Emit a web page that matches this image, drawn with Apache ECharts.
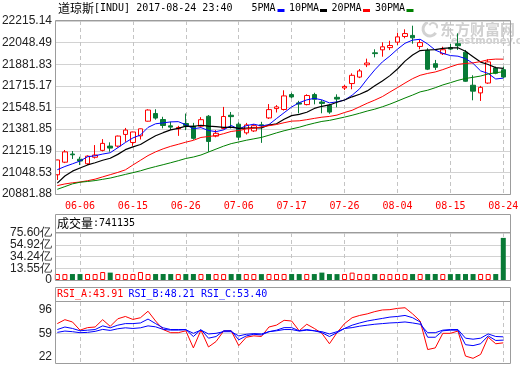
<!DOCTYPE html>
<html><head><meta charset="utf-8">
<script src="https://cdn.jsdelivr.net/npm/echarts@6/dist/echarts.min.js"></script>
<style>html,body{margin:0;padding:0;background:#fff}#c{width:520px;height:365px}</style>
</head><body><div id="c"></div>
<script>
const dates = ['06-01','06-02','06-05','06-06','06-07','06-08','06-09','06-12','06-13','06-14','06-15','06-16','06-19','06-20','06-21','06-22','06-23','06-26','06-27','06-28','06-29','06-30','07-03','07-05','07-06','07-07','07-10','07-11','07-12','07-13','07-14','07-17','07-18','07-19','07-20','07-21','07-24','07-25','07-26','07-27','07-28','07-31','08-01','08-02','08-03','08-04','08-07','08-08','08-09','08-10','08-11','08-14','08-15','08-16','08-17','08-18','08-21','08-22','08-23','08-24'];
const opens = [21030,21127,21190,21150,21115,21165,21218,21251,21251,21341,21279,21330,21443,21502,21456,21407,21385,21425,21404,21404,21481,21328,21387,21489,21420,21353,21368,21415,21468,21540,21533,21648,21584,21571,21648,21591,21566,21627,21699,21733,21783,21878,21970,21993,22010,22052,22096,22104,22019,21989,21886,21963,22010,22040,21975,21720,21661,21737,21853,21840];
const closes = [21144.18,21206.29,21184.04,21136.23,21173.69,21182.53,21271.97,21235.67,21328.47,21374.56,21359.90,21384.28,21528.99,21467.14,21410.03,21397.29,21394.76,21409.55,21310.66,21454.61,21287.03,21349.63,21479.27,21478.17,21320.04,21414.34,21408.52,21409.07,21532.14,21553.09,21637.74,21629.72,21574.73,21640.75,21611.78,21580.07,21513.17,21613.43,21711.01,21796.55,21830.31,21891.12,21963.92,22016.24,22026.10,22092.81,22118.42,22085.34,22048.70,21844.01,21858.32,21993.71,21998.99,22024.87,21750.73,21674.51,21703.75,21899.89,21812.09,21783.40];
const lows = [20990,21120,21152,21105,21105,21155,21210,21208,21240,21284,21253,21302,21440,21455,21388,21375,21330,21374,21300,21395,21207,21319,21380,21387,21298,21340,21360,21276,21460,21510,21525,21620,21503,21565,21573,21504,21500,21550,21683,21689,21775,21860,21935,21940,21991,22030,22082,22040,21997,21837,21838,21953,21992,21992,21747,21604,21599,21730,21805,21775];
const highs = [21146,21221,21213,21169,21180,21259,21305,21280,21332,21391,21362,21386,21535,21535,21477,21439,21407,21502,21430,21474,21490,21375,21553,21514,21434,21430,21420,21438,21575,21567,21681,21662,21600,21650,21662,21606,21575,21650,21722,21812,21845,21925,21997,22051,22063,22125,22151,22179,22069,22005,21915,22017,22038,22120,21992,21797,21715,21920,21863,21863];
const ma5 = [21069.1,21093.8,21114.5,21135.9,21168.9,21176.6,21189.7,21200.0,21238.5,21278.6,21314.1,21336.6,21395.2,21423.0,21430.1,21437.5,21439.6,21415.8,21384.5,21393.4,21371.3,21362.3,21376.2,21409.7,21382.8,21408.3,21420.1,21406.0,21416.8,21463.4,21508.1,21552.4,21585.5,21607.2,21618.9,21607.4,21584.1,21591.8,21605.9,21642.8,21692.9,21768.5,21838.6,21899.6,21945.5,21998.0,22043.5,22067.8,22074.3,22037.9,21991.0,21966.0,21948.7,21944.0,21925.3,21888.6,21830.6,21810.8,21768.2,21774.7];
const ma10 = [20965.8,21020.2,21058.1,21082.2,21105.8,21122.8,21141.7,21157.3,21187.2,21223.8,21245.3,21263.1,21297.6,21330.7,21354.4,21375.8,21388.1,21405.5,21403.7,21411.7,21404.4,21401.0,21396.0,21397.1,21388.1,21389.8,21391.2,21391.1,21413.3,21423.1,21458.2,21486.2,21495.8,21512.0,21541.2,21557.8,21568.2,21588.7,21606.5,21630.9,21650.2,21676.3,21715.2,21752.8,21794.2,21845.5,21906.0,21953.2,21987.0,21991.7,21994.5,22004.8,22008.3,22009.1,21981.6,21939.8,21898.3,21879.7,21856.1,21850.0];
const ma20 = [20946.6,20959.4,20968.2,20974.4,20984.3,20996.3,21013.9,21030.9,21048.2,21067.9,21105.6,21141.7,21177.9,21206.5,21230.1,21249.3,21264.9,21281.4,21295.4,21317.7,21324.9,21332.1,21346.8,21363.9,21371.2,21382.8,21389.6,21398.3,21408.5,21417.4,21431.3,21443.6,21445.9,21454.6,21464.6,21473.8,21479.7,21489.9,21509.9,21527.0,21554.2,21581.3,21605.5,21632.4,21667.7,21701.6,21737.1,21770.9,21796.8,21811.3,21822.3,21840.5,21861.7,21880.9,21887.9,21892.6,21902.1,21916.5,21921.5,21920.9];
const ma30 = [20917.9,20938.8,20960.0,20972.5,20978.4,20985.3,20995.0,21004.8,21018.6,21032.8,21046.2,21060.6,21078.0,21093.2,21107.7,21122.8,21138.6,21155.7,21166.7,21182.5,21205.2,21228.1,21250.6,21270.0,21282.8,21296.2,21307.0,21318.0,21334.7,21352.9,21369.3,21383.4,21396.5,21413.3,21427.9,21441.1,21449.2,21461.8,21474.5,21488.6,21504.3,21521.2,21535.7,21554.0,21574.5,21597.7,21621.8,21644.3,21668.9,21681.9,21700.9,21722.4,21739.7,21758.0,21772.3,21781.0,21790.8,21807.2,21816.5,21824.2];
const volumes = [10.6,10.4,10.5,10.5,10.6,10.5,14.0,13.0,10.5,10.6,10.5,14.0,10.5,10.5,10.6,10.5,10.4,10.5,10.6,10.5,10.6,10.5,10.4,10.5,10.6,10.5,10.5,10.4,10.6,10.5,10.6,10.5,10.5,10.6,10.5,13.0,10.5,10.4,10.5,13.0,10.5,10.6,10.5,10.4,10.5,10.6,10.5,10.5,10.6,10.5,10.6,10.5,10.4,10.6,10.5,10.5,10.6,10.5,10.5,74.11];
const rsiA = [74.4,80.6,77.0,64.0,68.0,69.0,80.6,70.0,82.0,85.7,81.0,83.7,94.0,78.5,65.0,60.0,60.0,63.0,35.9,64.0,37.4,46.0,62.6,63.0,39.5,52.8,55.0,54.0,69.0,72.0,79.6,78.5,63.0,73.4,66.7,59.0,42.5,60.0,74.4,83.7,87.3,89.8,93.4,96.0,96.5,98.5,99.5,89.8,78.5,33.3,35.9,59.0,59.0,62.6,23.0,19.4,25.6,52.8,42.5,43.91];
const rsiB = [65.0,69.0,66.7,63.0,64.0,65.0,70.8,67.7,71.9,74.4,74.4,75.4,81.6,74.4,67.7,65.0,65.0,65.0,53.9,65.0,51.3,53.9,63.1,63.1,48.7,54.9,57.5,56.4,61.6,64.0,68.0,68.0,63.0,65.0,63.0,60.0,53.9,60.0,66.7,71.9,75.4,78.5,80.6,82.6,84.7,85.7,87.3,83.7,77.0,52.8,52.8,63.0,64.0,64.0,41.0,39.5,42.5,55.0,47.7,48.21];
const rsiC = [60.5,62.6,61.6,60.0,60.5,62.1,65.2,63.6,66.2,67.7,66.7,67.7,70.8,69.3,65.2,64.1,64.1,64.7,59.0,64.1,58.0,59.0,61.6,61.6,54.9,57.5,58.5,58.0,61.6,63.0,65.0,65.0,62.6,64.0,63.0,61.6,58.0,61.6,66.7,68.0,70.3,71.9,73.4,74.4,75.4,76.0,77.0,75.4,73.4,60.0,60.0,64.0,65.0,65.0,51.3,49.7,51.3,58.0,54.0,53.40];
const priceTicks = [20881.88,21048.53,21215.19,21381.85,21548.51,21715.17,21881.83,22048.49,22215.14];
const dateTicks = ['06-06','06-15','06-26','07-06','07-17','07-26','08-04','08-15','08-24'];
const volTickLabels = ['0','13.55亿','34.24亿','54.92亿','75.60亿'];
const volAxisMax = 82.73;
const rsiTicks = [22,59,96];

const UP = '#ff0000', DOWN = '#087a36';
const MONO = '"DejaVu Sans Mono", monospace';
const CJK = '"Noto Sans CJK SC", sans-serif';
const NUM = '"Liberation Sans", Arial, sans-serif';
const tickIdx = dateTicks.map(d => dates.indexOf(d));
const volTickPos = volTickLabels.map((_, k) => volAxisMax * k / (volTickLabels.length - 1));
const volLabelFor = v => {
  let k = 0, best = 1e9;
  volTickPos.forEach((p, j) => { if (Math.abs(p - v) < best) { best = Math.abs(p - v); k = j; } });
  return volTickLabels[k];
};

const candleData = dates.map((_, i) => [i, opens[i], closes[i], lows[i], highs[i]]);
const pair = arr => arr.map((v, i) => [i, v]);

const xBase = (gi, showLabel) => ({
  type: 'value', gridIndex: gi, min: -0.307, max: 60.02,
  axisLine: {show: false},
  axisTick: {show: false, customValues: tickIdx},
  axisLabel: showLabel ? {show: true, customValues: tickIdx, formatter: v => dates[Math.round(v)],
    color: '#ff0000', fontFamily: MONO, fontSize: 10, margin: 7, showMinLabel: true, showMaxLabel: true, hideOverlap: false} : {show: false},
  splitLine: {show: true, lineStyle: {color: '#c4c4c4', type: [4, 3], width: 1}}
});

const labelBase = {fontFamily: NUM, fontSize: 12, color: '#222', margin: 3, showMinLabel: true, showMaxLabel: true, hideOverlap: false};
const gridLine = {color: '#d2d2d2', width: 1, type: 'solid'};
const chart = echarts.init(document.getElementById('c'), null, {renderer: 'canvas'});
chart.setOption({
  animation: false,
  backgroundColor: '#ffffff',
  grid: [
    {left: 55, top: 21, width: 456, height: 173, outerBoundsMode: 'none'},
    {left: 55, top: 233, width: 456, height: 47, outerBoundsMode: 'none'},
    {left: 55, top: 302, width: 456, height: 61, outerBoundsMode: 'none'}
  ],
  xAxis: [xBase(0, true), xBase(1, false), xBase(2, false)],
  yAxis: [
    {type: 'value', gridIndex: 0, min: priceTicks[0], max: priceTicks[priceTicks.length - 1],
      axisLine: {show: false}, axisTick: {show: false, customValues: priceTicks},
      axisLabel: Object.assign({customValues: priceTicks, formatter: v => v.toFixed(2)}, labelBase),
      splitLine: {show: true, lineStyle: gridLine}},
    {type: 'value', gridIndex: 1, min: 0, max: volAxisMax, position: 'left',
      axisLine: {show: false}, axisTick: {show: false, customValues: volTickPos},
      axisLabel: Object.assign({customValues: volTickPos.filter((_, k) => k % 2 === 0), formatter: volLabelFor}, labelBase),
      splitLine: {show: true, lineStyle: gridLine}},
    {type: 'value', gridIndex: 2, min: 12, max: 108.6,
      axisLine: {show: false}, axisTick: {show: false, customValues: rsiTicks},
      axisLabel: Object.assign({customValues: rsiTicks}, labelBase),
      splitLine: {show: false}},
    {type: 'value', gridIndex: 1, min: 0, max: volAxisMax, position: 'left', offset: 0,
      axisLine: {show: false}, axisTick: {show: false},
      axisLabel: Object.assign({customValues: volTickPos.filter((_, k) => k % 2 === 1), formatter: volLabelFor}, labelBase),
      splitLine: {show: false}}
  ],
  graphic: [
    {type: 'arc', z: 0, shape: {cx: 430, cy: 29, r: 7, startAngle: 0.6, endAngle: 4.4}, style: {fill: null, stroke: '#d2d2d2', lineWidth: 3}},
    {type: 'arc', z: 0, shape: {cx: 433, cy: 27, r: 4, startAngle: 3.6, endAngle: 6.6}, style: {fill: null, stroke: '#d2d2d2', lineWidth: 2}},
    {type: 'text', z: 0, style: {x: 440, y: 22, text: '东方财富网', font: 'bold 15px "Noto Sans CJK SC"', fill: '#d0d0d0'}},
    {type: 'text', z: 0, style: {x: 451, y: 36, text: 'eastmoney.com', font: 'bold 10px "DejaVu Sans"', fill: '#d0d0d0'}},
    {type: 'rect', z: 10, shape: {x: 55.5, y: 20.5, width: 455, height: 174}, style: {fill: null, stroke: '#9c9c9c', lineWidth: 1}},
    {type: 'rect', z: 10, shape: {x: 55.5, y: 214.5, width: 455, height: 66}, style: {fill: null, stroke: '#9c9c9c', lineWidth: 1}},
    {type: 'line', z: 10, shape: {x1: 55.5, y1: 232.5, x2: 510.5, y2: 232.5}, style: {stroke: '#9c9c9c', lineWidth: 1}},
    {type: 'rect', z: 10, shape: {x: 55.5, y: 287.5, width: 455, height: 76}, style: {fill: null, stroke: '#9c9c9c', lineWidth: 1}},
    {type: 'line', z: 10, shape: {x1: 55.5, y1: 301.5, x2: 510.5, y2: 301.5}, style: {stroke: '#9c9c9c', lineWidth: 1}},
    {type: 'text', z: 11, style: {x: 58, y: 8, text: '{c|道琼斯}{m|[INDU] 2017-08-24 23:40}', verticalAlign: 'middle',
      rich: {c: {fontFamily: CJK, fontSize: 12, fill: '#000'}, m: {fontFamily: MONO, fontSize: 10, fill: '#000'}}}},
    {type: 'text', z: 11, style: {x: 251.5, y: 8, text: '5PMA', verticalAlign: 'middle', font: '10px ' + MONO, fill: '#000'}},
    {type: 'rect', z: 11, shape: {x: 277.5, y: 9, width: 7, height: 3}, style: {fill: '#0000ff'}},
    {type: 'text', z: 11, style: {x: 289, y: 8, text: '10PMA', verticalAlign: 'middle', font: '10px ' + MONO, fill: '#000'}},
    {type: 'rect', z: 11, shape: {x: 320, y: 9, width: 7, height: 3}, style: {fill: '#000000'}},
    {type: 'text', z: 11, style: {x: 331.5, y: 8, text: '20PMA', verticalAlign: 'middle', font: '10px ' + MONO, fill: '#000'}},
    {type: 'rect', z: 11, shape: {x: 363, y: 9, width: 7, height: 3}, style: {fill: '#ff0000'}},
    {type: 'text', z: 11, style: {x: 375, y: 8, text: '30PMA', verticalAlign: 'middle', font: '10px ' + MONO, fill: '#000'}},
    {type: 'rect', z: 11, shape: {x: 406.5, y: 9, width: 7, height: 3}, style: {fill: '#008000'}},
    {type: 'text', z: 11, style: {x: 57, y: 223, text: '{c|成交量}{m|:741135}', verticalAlign: 'middle',
      rich: {c: {fontFamily: CJK, fontSize: 12, fill: '#000'}, m: {fontFamily: MONO, fontSize: 10, fill: '#000'}}}},
    {type: 'text', z: 11, style: {x: 57, y: 294.5, text: 'RSI_A:43.91', verticalAlign: 'middle', font: '10px ' + MONO, fill: '#ff0000'}},
    {type: 'text', z: 11, style: {x: 128.5, y: 294.5, text: 'RSI_B:48.21', verticalAlign: 'middle', font: '10px ' + MONO, fill: '#0000ff'}},
    {type: 'text', z: 11, style: {x: 201, y: 294.5, text: 'RSI_C:53.40', verticalAlign: 'middle', font: '10px ' + MONO, fill: '#0000ff'}}
  ],
  series: [
    {type: 'candlestick', name: 'K', xAxisIndex: 0, yAxisIndex: 0, z: 3,
      dimensions: ['idx', 'open', 'close', 'lowest', 'highest'],
      encode: {x: 0, y: [1, 2, 3, 4]},
      data: candleData, barWidth: 5,
      itemStyle: {color: '#ffffff', color0: DOWN, borderColor: UP, borderColor0: DOWN, borderWidth: 1}},
    {type: 'line', name: '5PMA', xAxisIndex: 0, yAxisIndex: 0, z: 4, data: pair(ma5), symbol: 'none', lineStyle: {color: '#0000ff', width: 1}},
    {type: 'line', name: '10PMA', xAxisIndex: 0, yAxisIndex: 0, z: 4, data: pair(ma10), symbol: 'none', lineStyle: {color: '#000000', width: 1.2}},
    {type: 'line', name: '20PMA', xAxisIndex: 0, yAxisIndex: 0, z: 4, data: pair(ma20), symbol: 'none', lineStyle: {color: '#ff0000', width: 1}},
    {type: 'line', name: '30PMA', xAxisIndex: 0, yAxisIndex: 0, z: 4, data: pair(ma30), symbol: 'none', lineStyle: {color: '#008000', width: 1}},
    {type: 'bar', name: 'VOL', xAxisIndex: 1, yAxisIndex: 1, barWidth: 5,
      data: volumes.map((v, i) => ({value: [i, v], itemStyle: closes[i] >= opens[i]
        ? {color: '#ffffff', borderColor: UP, borderWidth: 1} : {color: DOWN, borderWidth: 0}}))},
    {type: 'line', name: 'RSI_A', xAxisIndex: 2, yAxisIndex: 2, z: 4, data: pair(rsiA), symbol: 'none', lineStyle: {color: '#ff0000', width: 1},
      markLine: {silent: true, symbol: 'none', label: {show: false}, lineStyle: {color: '#d2d2d2', type: 'solid', width: 1}, data: [{yAxis: 59}], z: 1}},
    {type: 'line', name: 'RSI_B', xAxisIndex: 2, yAxisIndex: 2, z: 4, data: pair(rsiB), symbol: 'none', lineStyle: {color: '#0000ff', width: 1}},
    {type: 'line', name: 'RSI_C', xAxisIndex: 2, yAxisIndex: 2, z: 4, data: pair(rsiC), symbol: 'none', lineStyle: {color: '#0000ff', width: 1}}
  ]
});
</script></body></html>
